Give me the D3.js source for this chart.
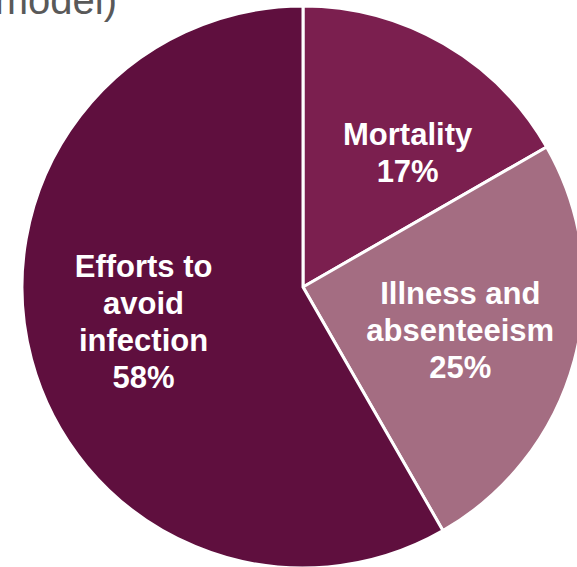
<!DOCTYPE html>
<html>
<head>
<meta charset="utf-8">
<script src="https://cdn.jsdelivr.net/npm/d3@7"></script>
<style>
  html, body { margin: 0; padding: 0; background: #fff; overflow: hidden; }
  svg { display: block; }
</style>
</head>
<body>
<script>
// data (shares, labels show them rounded)
var categories = ['Mortality', 'Illness and absenteeism', 'Efforts to avoid infection'];
var shares     = [16.7, 25.0, 58.3];
var labelLines = [['Mortality'], ['Illness and', 'absenteeism'], ['Efforts to', 'avoid', 'infection']];
var colors     = ['#7b1f4f', '#a46d82', '#5f0f3e'];

// init
var width  = 577,
    height = 567,
    cx     = 303,
    cy     = 287,
    radius = 281,
    labelRadius = 165,
    fontSize = 31,
    lineHeight = 37;

// nudges for the label blocks (px)
var labelNudge = [[22, 8], [-2, 0], [0, -8]];

var pct = d3.format('.0f');

var svg = d3.select('body')
    .append('svg')
    .attr('width', width)
    .attr('height', height);

// clipped title above the chart
svg.append('text')
    .attr('x', 117)
    .attr('y', 14)
    .attr('text-anchor', 'end')
    .attr('font-family', 'Liberation Sans, Arial, sans-serif')
    .attr('font-size', 40)
    .attr('fill', '#595959')
    .text('model)');

var pie = d3.pie().sort(null).value(function (d) { return d; });
var arcs = pie(shares);

var arc = d3.arc().innerRadius(0).outerRadius(radius);
var labelArc = d3.arc().innerRadius(labelRadius).outerRadius(labelRadius);

var g = svg.append('g')
    .attr('transform', 'translate(' + cx + ',' + cy + ')');

// slices
g.selectAll('path')
    .data(arcs)
    .join('path')
    .attr('d', arc)
    .attr('fill', function (d, i) { return colors[i]; })
    .attr('stroke', '#fff')
    .attr('stroke-width', 3)
    .attr('stroke-linejoin', 'miter');

// labels
g.selectAll('text.lbl')
    .data(arcs)
    .join('text')
    .attr('class', 'lbl')
    .attr('text-anchor', 'middle')
    .attr('font-family', 'Liberation Sans, Arial, sans-serif')
    .attr('font-weight', 'bold')
    .attr('font-size', fontSize)
    .attr('fill', '#fff')
    .each(function (d, i) {
        var c = labelArc.centroid(d);
        var x = c[0] + labelNudge[i][0];
        var lines = labelLines[i].concat([pct(shares[i]) + '%']);
        var y0 = c[1] + labelNudge[i][1] - (lines.length - 1) * lineHeight / 2 + fontSize * 0.36;
        d3.select(this).selectAll('tspan')
            .data(lines)
            .join('tspan')
            .attr('x', x)
            .attr('y', function (t, j) { return y0 + j * lineHeight; })
            .text(function (t) { return t; });
    });
</script>
</body>
</html>
